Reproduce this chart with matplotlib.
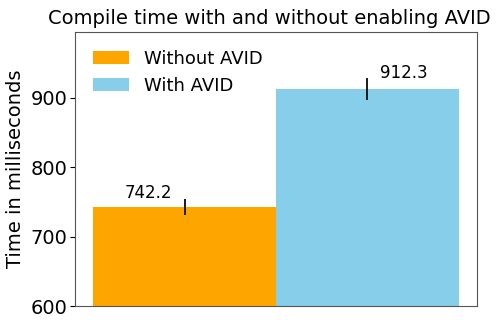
import matplotlib
matplotlib.use("Agg")
import matplotlib.pyplot as plt

labels = ["Without AVID", "With AVID"]
values = [742.2, 912.3]
errors = [11.5, 16.0]
colors = ["orange", "skyblue"]

fig = plt.figure(figsize=(5.02, 3.20), dpi=100)
ax = fig.add_axes([75 / 502, 1 - 306 / 320, 402 / 502, 274 / 320])

positions = list(range(len(values)))
for i, (lab, v, e, c) in enumerate(zip(labels, values, errors, colors)):
    ax.bar(positions[i], v, width=1.0, color=c, label=lab,
           yerr=e, error_kw=dict(ecolor="#1a1a1a", elinewidth=1.4, capsize=0))

# value labels beside the error bars
ax.text(positions[0] - 0.07, values[0] + errors[0] - 4, f"{values[0]}",
        ha="right", va="bottom", fontsize=12)
ax.text(positions[1] + 0.07, values[1] + errors[1] - 6, f"{values[1]}",
        ha="left", va="bottom", fontsize=12)

ax.set_ylim(600, 995)
ax.set_xlim(-0.6, 1.6)
ax.set_xticks([])
ax.set_yticks([600, 700, 800, 900])
ax.tick_params(axis="y", labelsize=14, pad=2)
ax.set_ylabel("Time in milliseconds", fontsize=14, labelpad=4)
ax.set_title("Compile time with and without enabling AVID", fontsize=14,
             pad=6, x=0.483)
for s in ax.spines.values():
    s.set_color("#555555")
ax.legend(loc="upper left", fontsize=13, frameon=False, handlelength=2.0,
          borderaxespad=0.6)

fig.savefig("out.png", dpi=100)
